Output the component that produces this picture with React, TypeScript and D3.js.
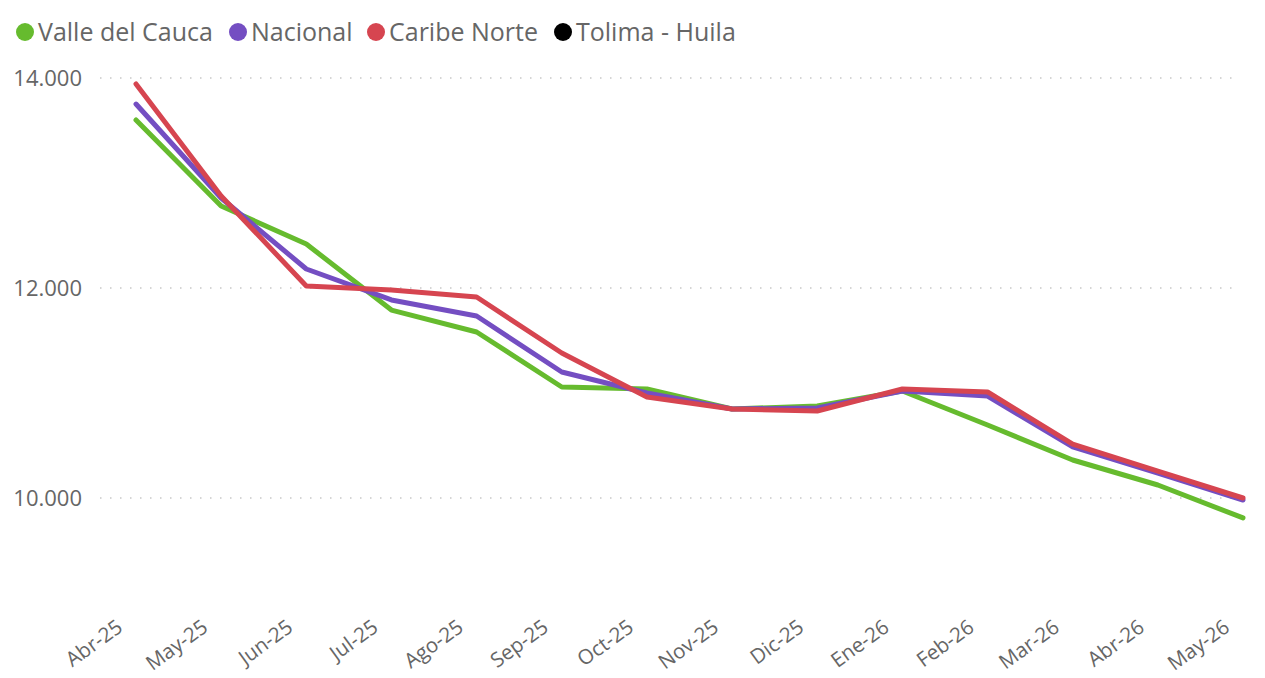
import React from "react";
import * as d3 from "d3";

const months = ["Abr-25","May-25","Jun-25","Jul-25","Ago-25","Sep-25","Oct-25","Nov-25","Dic-25","Ene-26","Feb-26","Mar-26","Abr-26","May-26"];
const valle = [13600,12781,12419,11790,11581,11057,11038,10848,10876,11019,10695,10362,10124,9810];
const nacional = [13752,12857,12181,11886,11733,11200,11000,10848,10857,11019,10971,10486,10238,9981];
const caribe = [13943,12876,12019,11981,11914,11381,10962,10848,10829,11038,11010,10514,10257,10000];
const yTicks = [10000, 12000, 14000];

const seriesNames = ["Valle del Cauca", "Nacional", "Caribe Norte", "Tolima - Huila"];
const seriesColors = ["#66BB2E", "#744EC2", "#D64550", "#000000"];
const seriesData: (number[] | null)[] = [valle, nacional, caribe, null];

const W = 1265, H = 678;
const font = "'Segoe UI', 'Open Sans', 'Noto Sans', sans-serif";

export default function App() {
  const x = d3.scalePoint<string>().domain(months).range([136, 1243]);
  const y = d3.scaleLinear().domain([9000, 14000]).range([603, 78]);
  const line = d3.line<number>().x((_, i) => x(months[i])!).y(d => y(d));
  const fmt = (v: number) => d3.format(",")(v).replace(/,/g, ".");

  const legendX = [25, 238, 376, 563];

  return (
    <svg width={W} height={H} style={{ position: "absolute", left: 0, top: 0, fontFamily: font }}>
      {yTicks.map(t => (
        <g key={t}>
          <line x1={100} x2={1240} y1={y(t)} y2={y(t)} stroke="#C8C8C8" strokeWidth={1.5} strokeDasharray="1.5 8.5" />
          <text x={82} y={y(t)} dy="0.35em" textAnchor="end" fontSize={22} fill="#666">{fmt(t)}</text>
        </g>
      ))}
      {months.map(m => (
        <text key={m} transform={`translate(${x(m)! - 12},${630}) rotate(-36)`} textAnchor="end" fontSize={20.5} fill="#666">{m}</text>
      ))}
      {seriesData.map((d, i) => d ? (
        <path key={i} d={line(d)!} fill="none" stroke={seriesColors[i]} strokeWidth={5} strokeLinejoin="round" strokeLinecap="round" />
      ) : null)}
      {seriesNames.map((n, i) => (
        <g key={n}>
          <circle cx={legendX[i]} cy={32} r={9} fill={seriesColors[i]} />
          <text x={legendX[i] + 13} y={32} dy="0.35em" fontSize={25} fill="#666">{n}</text>
        </g>
      ))}
    </svg>
  );
}
